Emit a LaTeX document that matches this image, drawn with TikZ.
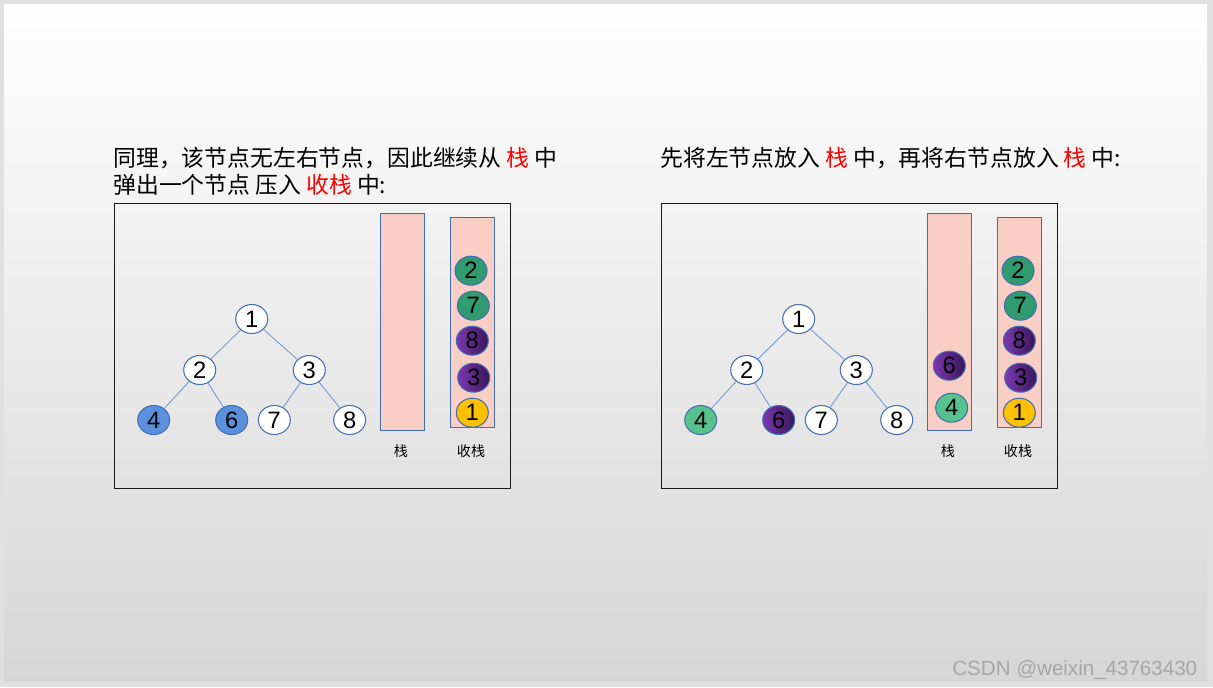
\documentclass[tikz,border=0pt]{standalone}
\usepackage{fontspec}
\setmainfont{Liberation Sans}
\newfontfamily\cjk{Noto Sans CJK SC}
\usetikzlibrary{shapes.geometric, positioning}
\definecolor{EdgeBlue}{RGB}{110,155,220}
\definecolor{RingBlue}{RGB}{65,110,180}
\definecolor{StackPink}{RGB}{249,206,196}
\definecolor{NodeBlue}{RGB}{91,144,221}
\definecolor{DeepGreen}{RGB}{48,155,112}
\definecolor{MintGreen}{RGB}{88,194,142}
\definecolor{PurpleA}{RGB}{125,55,175}
\definecolor{PurpleB}{RGB}{55,22,90}
\definecolor{Amber}{RGB}{255,192,0}
\definecolor{TitleRed}{RGB}{255,0,0}

\begin{document}
\begin{tikzpicture}[x=0.02cm, y=-0.02cm,
    treenode/.style={ellipse, draw=RingBlue, line width=0.6pt, fill=white,
      minimum width=0.64cm, minimum height=0.58cm, inner sep=0pt,
      font=\fontsize{13.5}{14}\selectfont},
    treeline/.style={draw=EdgeBlue, line width=0.5pt},
    stackbox/.style={draw=RingBlue, fill=StackPink, line width=0.6pt, inner sep=0pt},
    stackname/.style={font=\cjk\fontsize{8}{9}\selectfont},
    titletext/.style={anchor=base west, inner sep=0pt, font=\cjk\fontsize{13}{15}\selectfont},
    panel/.style={draw=black!90, line width=0.5pt},
    bluefill/.style={fill=NodeBlue},
    greenfill/.style={fill=DeepGreen},
    mintfill/.style={fill=MintGreen},
    purplefill/.style={left color=PurpleA, right color=PurpleB},
    amberfill/.style={fill=Amber}]

  % slide background
  \useasboundingbox (0,0) rectangle (1213,687);
  \fill[black!12] (0,0) rectangle (1213,687);
  \shade[top color=white, middle color=black!5, bottom color=black!16] (4,4) rectangle (1207,681);

  % left panel
  \begin{scope}[name prefix=L-]
    \node[titletext] (title1) at (113,166) {同理，该节点无左右节点，因此继续从 {\color{TitleRed}栈} 中};
    \node[titletext] (title2) at (113,193) {弹出一个节点 压入 {\color{TitleRed}收栈} 中:};
    \draw[panel] (114,203) rectangle (510,488);

    \node[treenode] (n1) at (251.7,319) {1};
    \node[treenode] (n2) at (199.7,370) {2};
    \node[treenode] (n3) at (309.3,370) {3};
    \node[treenode, bluefill] (n4) at (153.7,420) {4};
    \node[treenode, bluefill] (n6) at (231.7,420) {6};
    \node[treenode] (n7) at (274.3,420) {7};
    \node[treenode] (n8) at (349.7,420) {8};
    \foreach \a/\b in {n1/n2, n1/n3, n2/n4, n2/n6, n3/n7, n3/n8}
      \draw[treeline] (\a) -- (\b);

    \node[stackbox, minimum width=0.88cm, minimum height=4.34cm] (stk) at (402.3,321.8) {};
    \node[stackbox, minimum width=0.88cm, minimum height=4.2cm] (out) at (472.3,322.3) {};
    \node[stackname] (stkname) at (401,451) {栈};
    \node[stackname] (outname) at (471,451) {收栈};

    \node[treenode, greenfill] (o2) at (471,270.7) {2};
    \node[treenode, greenfill] (o7) at (473.3,305.7) {7};
    \node[treenode, purplefill] (o8) at (472.3,340.7) {8};
    \node[treenode, purplefill] (o3) at (473.7,377.7) {3};
    \node[treenode, amberfill] (o1) at (472.3,412.7) {1};
  \end{scope}

  % right panel
  \begin{scope}[shift={(547,0)}, name prefix=R-]
    \node[titletext] (title1) at (113,166) {先将左节点放入 {\color{TitleRed}栈} 中，再将右节点放入 {\color{TitleRed}栈} 中:};
    \draw[panel] (114,203) rectangle (510,488);

    \node[treenode] (n1) at (251.7,319) {1};
    \node[treenode] (n2) at (199.7,370) {2};
    \node[treenode] (n3) at (309.3,370) {3};
    \node[treenode, mintfill] (n4) at (153.7,420) {4};
    \node[treenode, purplefill] (n6) at (231.7,420) {6};
    \node[treenode] (n7) at (274.3,420) {7};
    \node[treenode] (n8) at (349.7,420) {8};
    \foreach \a/\b in {n1/n2, n1/n3, n2/n4, n2/n6, n3/n7, n3/n8}
      \draw[treeline] (\a) -- (\b);

    \node[stackbox, minimum width=0.88cm, minimum height=4.34cm] (stk) at (402.3,321.8) {};
    \node[stackbox, minimum width=0.88cm, minimum height=4.2cm] (out) at (472.3,322.3) {};
    \node[stackname] (stkname) at (401,451) {栈};
    \node[stackname] (outname) at (471,451) {收栈};

    \node[treenode, purplefill] (s6) at (402.3,365.7) {6};
    \node[treenode, mintfill] (s4) at (404.7,407.7) {4};

    \node[treenode, greenfill] (o2) at (471,270.7) {2};
    \node[treenode, greenfill] (o7) at (473.3,305.7) {7};
    \node[treenode, purplefill] (o8) at (472.3,340.7) {8};
    \node[treenode, purplefill] (o3) at (473.7,377.7) {3};
    \node[treenode, amberfill] (o1) at (472.3,412.7) {1};
  \end{scope}

  % watermark
  \node[anchor=base west, inner sep=0pt, text=black!35, font=\fontsize{11.7}{12}\selectfont]
    (mark) at (952,675) {CSDN @weixin\_43763430};
\end{tikzpicture}
\end{document}
